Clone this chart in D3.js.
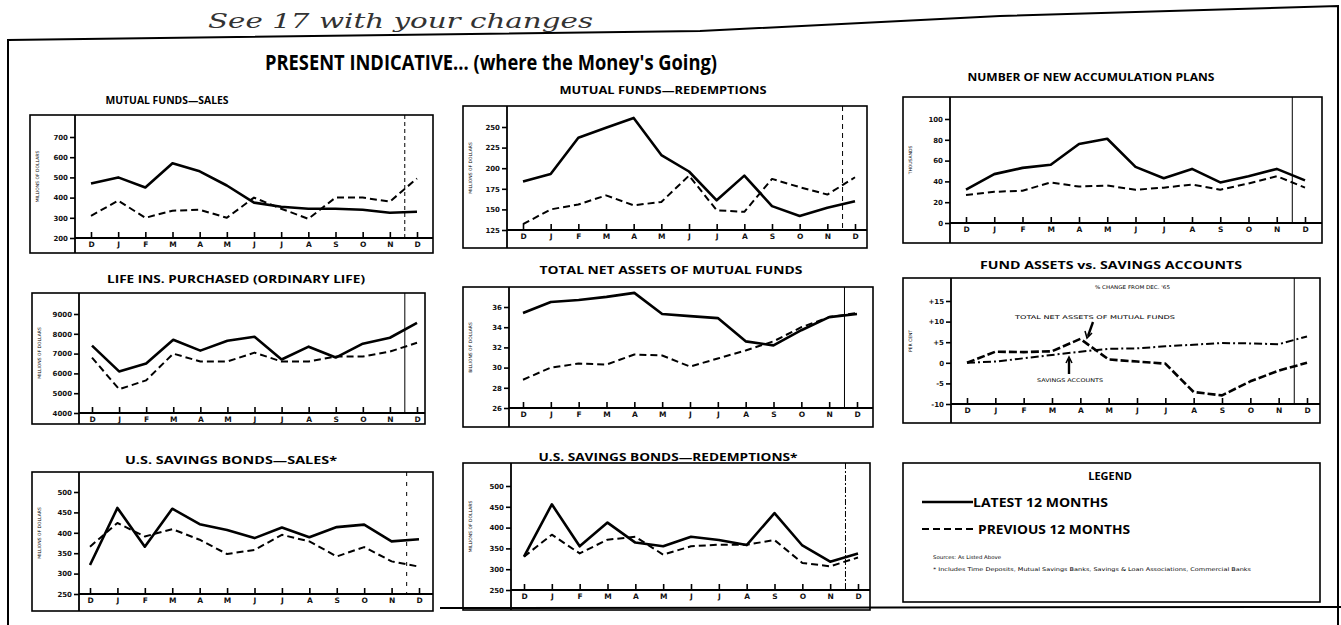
<!DOCTYPE html>
<html>
<head>
<meta charset="utf-8">
<script src="https://cdn.jsdelivr.net/npm/d3@7"></script>
<style>
  body { margin: 0; background: #ffffff; }
  svg { display: block; }
  .tick text { font-family: "DejaVu Sans", sans-serif; font-weight: bold; fill: #111; }
  .tick line { stroke: #000; stroke-width: 1.6; }
</style>
</head>
<body>
<svg id="chart" width="1341" height="625"></svg>
<script>
// month labels along every x axis (Dec to Dec)
var months = ["D", "J", "F", "M", "A", "M", "J", "J", "A", "S", "O", "N", "D"];

// mutual funds - sales (millions of dollars)
var mfSalesLatest = [470, 500, 450, 570, 530, 460, 375, 355, 345, 345, 340, 325, 330];
var mfSalesPrevious = [310, 385, 300, 335, 340, 300, 400, 345, 295, 400, 400, 380, 495];
var mfSalesTicks = [200, 300, 400, 500, 600, 700];

// mutual funds - redemptions (millions of dollars)
var mfRedLatest = [184, 193, 237, 249, 261, 216, 196, 161, 191, 154, 142, 152, 160];
var mfRedPrevious = [132, 150, 156, 167, 155, 159, 191, 149, 147, 187, 177, 168, 189];
var mfRedTicks = [125, 150, 175, 200, 225, 250];

// number of new accumulation plans (thousands)
var plansLatest = [32, 47, 53, 56, 76, 81, 54, 43, 52, 39, 45, 52, 41];
var plansPrevious = [27, 30, 31, 39, 35, 36, 32, 34, 37, 32, 38, 45, 34];
var plansTicks = [0, 20, 40, 60, 80, 100];

// life insurance purchased, ordinary life (millions of dollars)
var lifeLatest = [7400, 6100, 6500, 7700, 7150, 7650, 7850, 6700, 7350, 6800, 7500, 7800, 8550];
var lifePrevious = [6800, 5200, 5650, 7000, 6600, 6600, 7050, 6600, 6600, 6850, 6850, 7100, 7550];
var lifeTicks = [4000, 5000, 6000, 7000, 8000, 9000];

// total net assets of mutual funds (billions of dollars)
var assetsLatest = [35.4, 36.5, 36.7, 37.0, 37.4, 35.3, 35.1, 34.9, 32.6, 32.2, 33.7, 35.0, 35.3];
var assetsPrevious = [28.8, 30.0, 30.4, 30.3, 31.3, 31.2, 30.1, 30.9, 31.7, 32.6, 34.0, 35.0, 35.4];
var assetsTicks = [26, 28, 30, 32, 34, 36];

// fund assets vs. savings accounts (per cent change)
var fundChange = [0, 2.7, 2.6, 2.8, 5.8, 0.8, 0.3, -0.2, -7.1, -7.9, -4.5, -1.9, 0];
var savingsChange = [0, 0.3, 1.1, 1.9, 2.7, 3.4, 3.5, 4.0, 4.4, 4.8, 4.7, 4.5, 6.4];
var changeTicks = [-10, -5, 0, 5, 10, 15];
var changeTickLabels = ["-10", "-5", "0", "+5", "+10", "+15"];

// U.S. savings bonds - sales (millions of dollars)
var bondSalesLatest = [321, 461, 366, 459, 421, 407, 387, 413, 389, 414, 420, 379, 384];
var bondSalesPrevious = [366, 424, 391, 409, 383, 348, 358, 395, 379, 342, 365, 330, 317];
var bondSalesTicks = [250, 300, 350, 400, 450, 500];

// U.S. savings bonds - redemptions (millions of dollars)
var bondRedLatest = [330, 456, 355, 412, 364, 355, 378, 370, 358, 435, 357, 318, 338];
var bondRedPrevious = [330, 383, 338, 371, 378, 335, 355, 359, 359, 370, 315, 307, 328];
var bondRedTicks = [250, 300, 350, 400, 450, 500];

var svg = d3.select("#chart");
var titleFont = "'Open Sans', 'DejaVu Sans', sans-serif";

/*
  NAME: drawFrame
  DESCRIPTION: outer page border, handwriting note and main heading
*/
function drawFrame() {
  // hand written note above the frame
  svg.append("text")
    .attr("x", 208).attr("y", 28)
    .attr("textLength", 385).attr("lengthAdjust", "spacingAndGlyphs")
    .style("font-family", "'DejaVu Serif', serif")
    .style("font-style", "italic")
    .style("font-size", "20px")
    .style("fill", "#333")
    .text("See 17 with your changes");

  var border = d3.line();
  svg.append("path")
    .attr("d", border([[8, 625], [8, 40], [700, 31], [1000, 16], [1338, 6], [1338, 625]]))
    .attr("fill", "none").attr("stroke", "#000").attr("stroke-width", 2);
  svg.append("line")
    .attr("x1", 440).attr("x2", 1341).attr("y1", 608).attr("y2", 607)
    .attr("stroke", "#000").attr("stroke-width", 2);

  svg.append("text")
    .attr("x", 265).attr("y", 70)
    .attr("textLength", 452).attr("lengthAdjust", "spacingAndGlyphs")
    .style("font-family", titleFont)
    .style("font-weight", "bold")
    .style("font-size", "22px")
    .text("PRESENT INDICATIVE... (where the Money's Going)");
} // end function drawFrame

/*
  NAME: drawPanel
  DESCRIPTION: one small line chart with its box, axes, divider and series
  ARGUMENTS TAKEN: cfg - box, scale anchors, ticks and series for the panel
*/
function drawPanel(cfg) {
  var g = svg.append("g");
  var b = cfg.box;

  // panel title
  g.append("text")
    .attr("x", cfg.titleX - cfg.titleW / 2).attr("y", cfg.titleY + 4)
    .attr("textLength", cfg.titleW).attr("lengthAdjust", "spacingAndGlyphs")
    .style("font-family", titleFont)
    .style("font-weight", "bold")
    .style("font-size", "11px")
    .text(cfg.title);

  var x = d3.scaleLinear().domain([0, months.length - 1]).range(cfg.xRange);
  var y = d3.scaleLinear()
    .domain([cfg.ticks[0], cfg.ticks[cfg.ticks.length - 1]])
    .range(cfg.yRange);

  // outer box and axis lines
  g.append("rect")
    .attr("x", b[0]).attr("y", b[1])
    .attr("width", b[2] - b[0]).attr("height", b[3] - b[1])
    .attr("fill", "none").attr("stroke", "#000").attr("stroke-width", 1.6);
  g.append("line")
    .attr("x1", cfg.axisX).attr("x2", cfg.axisX)
    .attr("y1", b[1]).attr("y2", b[3])
    .attr("stroke", "#000").attr("stroke-width", 1.8);
  g.append("line")
    .attr("x1", cfg.axisX).attr("x2", b[2])
    .attr("y1", cfg.yRange[0]).attr("y2", cfg.yRange[0])
    .attr("stroke", "#000").attr("stroke-width", 1.8);

  // divider between last two months
  var divX = x(11.55);
  g.append("line")
    .attr("x1", divX).attr("x2", divX)
    .attr("y1", b[1]).attr("y2", cfg.yRange[0])
    .attr("stroke", "#000").attr("stroke-width", 1)
    .attr("stroke-dasharray", cfg.divDash || null);

  // y axis
  var yAxis = d3.axisLeft(y).tickValues(cfg.ticks).tickSize(5).tickPadding(2)
    .tickFormat(d3.format("d"));
  if (cfg.tickLabels) {
    yAxis.tickFormat(function (d, i) { return cfg.tickLabels[i]; });
  }
  var ya = g.append("g")
    .attr("transform", "translate(" + cfg.axisX + ",0)")
    .call(yAxis);
  ya.select(".domain").remove();
  ya.selectAll("text").style("font-size", "7px");

  // x axis with ticks pointing up
  var xa = g.append("g")
    .attr("transform", "translate(0," + cfg.yRange[0] + ")")
    .call(d3.axisBottom(x)
      .tickValues(d3.range(months.length))
      .tickSize(-6).tickPadding(4)
      .tickFormat(function (d) { return months[d]; }));
  xa.select(".domain").remove();
  xa.selectAll("text").style("font-size", "7.5px");

  // rotated unit label
  g.append("text")
    .attr("transform", "translate(" + (b[0] + 9) + "," + ((b[1] + cfg.yRange[0]) / 2) + ") rotate(-90)")
    .attr("text-anchor", "middle")
    .style("font-family", "'DejaVu Sans', sans-serif")
    .style("font-size", "4.5px")
    .text(cfg.unit);

  var line = d3.line()
    .x(function (d, i) { return x(i); })
    .y(function (d) { return y(d); });

  cfg.series.forEach(function (s) {
    g.append("path")
      .datum(s.values)
      .attr("d", line)
      .attr("fill", "none")
      .attr("stroke", "#000")
      .attr("stroke-width", s.width)
      .attr("stroke-linejoin", "round")
      .attr("stroke-dasharray", s.dash || null);
  });

  return { g: g, x: x, y: y };
} // end function drawPanel

var solid = function (v) { return { values: v, width: 2.6 }; };
var dashed = function (v) { return { values: v, width: 2, dash: "7,4" }; };

drawFrame();

drawPanel({
  title: "MUTUAL FUNDS\u2014SALES", titleX: 167, titleY: 100, titleW: 123,
  box: [30, 115, 433, 253], axisX: 75, xRange: [91, 417], yRange: [238, 137],
  ticks: mfSalesTicks, unit: "MILLIONS OF DOLLARS", divDash: "4,3",
  series: [dashed(mfSalesPrevious), solid(mfSalesLatest)]
});

drawPanel({
  title: "MUTUAL FUNDS\u2014REDEMPTIONS", titleX: 663, titleY: 90, titleW: 207,
  box: [463, 106, 867, 248], axisX: 507, xRange: [523, 855], yRange: [230, 127],
  ticks: mfRedTicks, unit: "MILLIONS OF DOLLARS", divDash: "5,4",
  series: [dashed(mfRedPrevious), solid(mfRedLatest)]
});

drawPanel({
  title: "NUMBER OF NEW ACCUMULATION PLANS", titleX: 1091, titleY: 77, titleW: 247,
  box: [903, 97, 1322, 243], axisX: 950, xRange: [966, 1305], yRange: [223, 119],
  ticks: plansTicks, unit: "THOUSANDS",
  series: [dashed(plansPrevious), solid(plansLatest)]
});

drawPanel({
  title: "LIFE INS. PURCHASED (ORDINARY LIFE)", titleX: 236, titleY: 279, titleW: 258,
  box: [32, 293, 425, 424], axisX: 79, xRange: [92, 417], yRange: [413, 314],
  ticks: lifeTicks, unit: "MILLIONS OF DOLLARS",
  series: [dashed(lifePrevious), solid(lifeLatest)]
});

drawPanel({
  title: "TOTAL NET ASSETS OF MUTUAL FUNDS", titleX: 671, titleY: 270, titleW: 263,
  box: [463, 287, 873, 427], axisX: 509, xRange: [523, 857], yRange: [408, 307],
  ticks: assetsTicks, unit: "BILLIONS OF DOLLARS",
  series: [dashed(assetsPrevious), solid(assetsLatest)]
});

var p6 = drawPanel({
  title: "FUND ASSETS vs. SAVINGS ACCOUNTS", titleX: 1111, titleY: 265, titleW: 262,
  box: [903, 278, 1320, 423], axisX: 951, xRange: [967, 1307], yRange: [404, 301],
  ticks: changeTicks, tickLabels: changeTickLabels, unit: "PER CENT",
  series: [
    { values: savingsChange, width: 2, dash: "8,3,2,3" },
    { values: fundChange, width: 2.6, dash: "8,3" }
  ]
});

// annotations for the fund assets panel
function tinyText(g, txt, x0, y0, w) {
  g.append("text")
    .attr("x", x0).attr("y", y0)
    .attr("textLength", w).attr("lengthAdjust", "spacingAndGlyphs")
    .style("font-family", "'DejaVu Sans', sans-serif")
    .style("font-size", "5px")
    .style("fill", "#000")
    .text(txt);
}
tinyText(p6.g, "% CHANGE FROM DEC. '65", 1095, 289, 75);
tinyText(p6.g, "TOTAL NET ASSETS OF MUTUAL FUNDS", 1015, 319, 160);
tinyText(p6.g, "SAVINGS ACCOUNTS", 1037, 382, 66);
p6.g.append("path")
  .attr("d", d3.line()([[1093, 322], [1088, 336]]))
  .attr("stroke", "#000").attr("stroke-width", 2.4).attr("fill", "none");
p6.g.append("path")
  .attr("d", d3.line()([[1085, 331], [1087, 338], [1092, 333]]))
  .attr("stroke", "#000").attr("stroke-width", 1.5).attr("fill", "none");
p6.g.append("path")
  .attr("d", d3.line()([[1069, 374], [1069, 359]]))
  .attr("stroke", "#000").attr("stroke-width", 2.4).attr("fill", "none");
p6.g.append("path")
  .attr("d", d3.line()([[1066, 363], [1069, 357], [1072, 363]]))
  .attr("stroke", "#000").attr("stroke-width", 1.5).attr("fill", "none");

drawPanel({
  title: "U.S. SAVINGS BONDS\u2014SALES*", titleX: 231, titleY: 460, titleW: 212,
  box: [32, 472, 433, 611], axisX: 79, xRange: [90, 419], yRange: [594, 492],
  ticks: bondSalesTicks, unit: "MILLIONS OF DOLLARS", divDash: "4,6",
  series: [dashed(bondSalesPrevious), solid(bondSalesLatest)]
});

drawPanel({
  title: "U.S. SAVINGS BONDS\u2014REDEMPTIONS*", titleX: 668, titleY: 457, titleW: 259,
  box: [463, 463, 870, 610], axisX: 511, xRange: [524, 858], yRange: [590, 486],
  ticks: bondRedTicks, unit: "MILLIONS OF DOLLARS", divDash: "6,2,2,2",
  series: [dashed(bondRedPrevious), solid(bondRedLatest)]
});

// legend box
var lg = svg.append("g");
lg.append("rect")
  .attr("x", 903).attr("y", 463).attr("width", 417).attr("height", 139)
  .attr("fill", "none").attr("stroke", "#000").attr("stroke-width", 1.6);
lg.append("text")
  .attr("x", 1110).attr("y", 480).attr("text-anchor", "middle")
  .style("font-family", titleFont).style("font-weight", "bold").style("font-size", "11px")
  .text("LEGEND");
lg.append("line")
  .attr("x1", 922).attr("x2", 973).attr("y1", 502).attr("y2", 502)
  .attr("stroke", "#000").attr("stroke-width", 2.6);
lg.append("text")
  .attr("x", 973).attr("y", 507)
  .attr("textLength", 135).attr("lengthAdjust", "spacingAndGlyphs")
  .style("font-family", titleFont).style("font-weight", "bold").style("font-size", "12px")
  .text("LATEST 12 MONTHS");
lg.append("line")
  .attr("x1", 922).attr("x2", 975).attr("y1", 529).attr("y2", 529)
  .attr("stroke", "#000").attr("stroke-width", 2).attr("stroke-dasharray", "7,4");
lg.append("text")
  .attr("x", 978).attr("y", 534)
  .attr("textLength", 152).attr("lengthAdjust", "spacingAndGlyphs")
  .style("font-family", titleFont).style("font-weight", "bold").style("font-size", "12px")
  .text("PREVIOUS 12 MONTHS");
tinyText(lg, "Sources: As Listed Above", 933, 559, 68);
tinyText(lg, "* Includes Time Deposits, Mutual Savings Banks, Savings & Loan Associations, Commercial Banks", 933, 571, 318);
</script>
</body>
</html>
